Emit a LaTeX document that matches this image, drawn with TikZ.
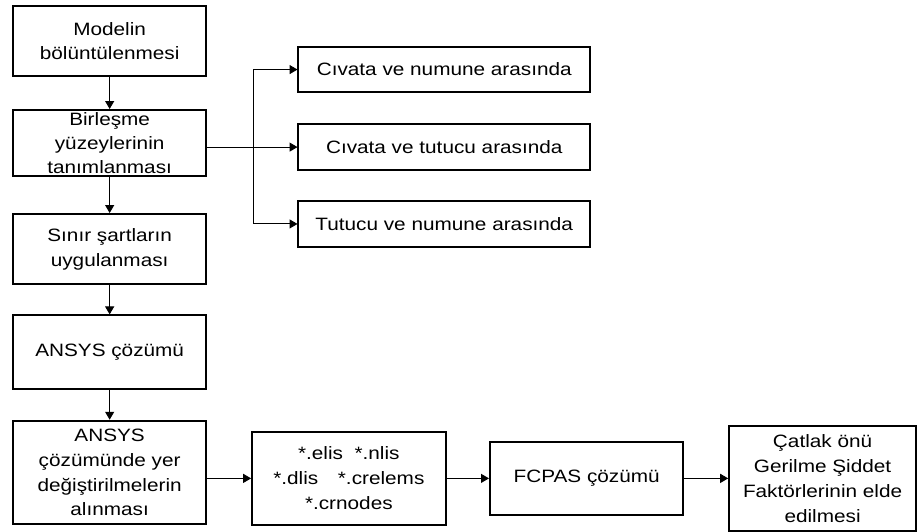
\documentclass[tikz,border=0pt]{standalone}
\usepackage{fontspec}
\setmainfont{Liberation Sans}[FakeStretch=1.16]
\usepackage{tikz}
\usetikzlibrary{arrows.meta, positioning}

\begin{document}
\begin{tikzpicture}[
    >={Triangle[length=6pt,width=6.8pt]},
    every node/.style={font=\fontsize{13.5}{18.75}\selectfont},
    box/.style={rectangle, draw, line width=1.5pt, align=center, minimum width=146pt, inner xsep=2pt, inner ysep=0.5pt},
    conn/.style={->, line width=0.75pt}
  ]

  \node[box, minimum height=53pt] (mesh) {Modelin\\bölüntülenmesi};

  \node[box, minimum height=50pt, below=24pt of mesh, font=\fontsize{13.5}{18}\selectfont, inner ysep=0pt] (contact) {
    Birleşme\\
    yüzeylerinin\\
    tanımlanması
  };

  \node[box, minimum height=53pt, below=27pt of contact] (bc) {Sınır şartların\\uygulanması};

  \node[box, minimum height=55.5pt, below=22pt of bc] (solve) {ANSYS çözümü};

  \node[box, minimum height=78pt, below=22.5pt of solve] (disp) {
    ANSYS\\
    çözümünde yer\\
    değiştirilmelerin\\
    alınması
  };

  % contact pairs
  \node[box, minimum width=220pt, minimum height=34.5pt, right=68pt of contact, yshift=-3pt] (pairB) {Cıvata ve tutucu arasında};
  \node[box, minimum width=220pt, minimum height=34.5pt, above=22.5pt of pairB] (pairA) {Cıvata ve numune arasında};
  \node[box, minimum width=220pt, minimum height=34.5pt, below=22pt of pairB] (pairC) {Tutucu ve numune arasında};

  % bottom row
  \node[box, minimum height=70pt, right=33pt of disp, yshift=-4.5pt] (files) {
    *.elis\ \ *.nlis\\
    *.dlis\hspace{1.1em}*.crelems\\
    *.crnodes
  };
  \node[box, minimum height=55.5pt, right=32pt of files] (fcpas) {FCPAS çözümü};
  \node[box, minimum width=141pt, minimum height=79pt, right=33pt of fcpas] (sif) {
    Çatlak önü\\
    Gerilme Şiddet\\
    Faktörlerinin elde\\
    edilmesi
  };

  \draw[conn] (mesh) -- (contact);
  \draw[conn] (contact) -- (bc);
  \draw[conn] (bc) -- (solve);
  \draw[conn] (solve) -- (disp);

  \coordinate (fork) at ([xshift=35pt]contact.east |- pairB);
  \draw[conn] (contact.east |- pairB) -- (pairB);
  \draw[conn] (fork) |- (pairA);
  \draw[conn] (fork) |- (pairC);

  \draw[conn] (disp.east |- files) -- (files);
  \draw[conn] (files) -- (fcpas);
  \draw[conn] (fcpas) -- (sif);

  \useasboundingbox ([shift={(-9pt,3.75pt)}]mesh.north west) rectangle ++(687.75pt,-399.75pt);

\end{tikzpicture}
\end{document}
